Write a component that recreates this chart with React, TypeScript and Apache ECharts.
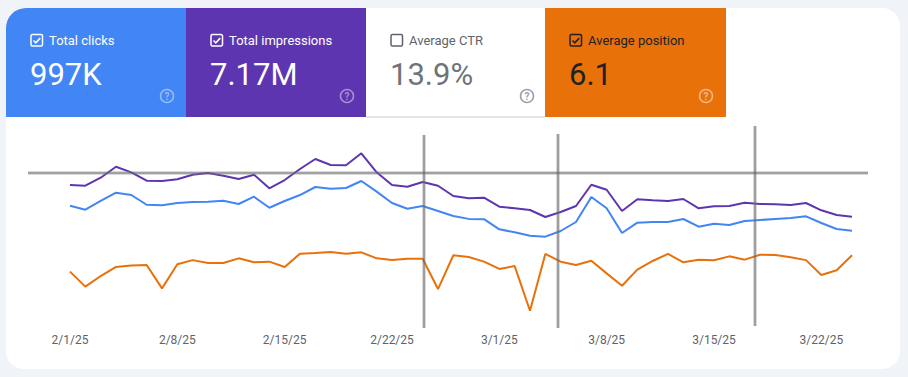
import React, { useEffect, useRef } from "react";
import * as echarts from "echarts";

const dates = [
  "2/1/25","2/2/25","2/3/25","2/4/25","2/5/25","2/6/25","2/7/25","2/8/25","2/9/25","2/10/25",
  "2/11/25","2/12/25","2/13/25","2/14/25","2/15/25","2/16/25","2/17/25","2/18/25","2/19/25","2/20/25",
  "2/21/25","2/22/25","2/23/25","2/24/25","2/25/25","2/26/25","2/27/25","2/28/25","3/1/25","3/2/25",
  "3/3/25","3/4/25","3/5/25","3/6/25","3/7/25","3/8/25","3/9/25","3/10/25","3/11/25","3/12/25",
  "3/13/25","3/14/25","3/15/25","3/16/25","3/17/25","3/18/25","3/19/25","3/20/25","3/21/25","3/22/25",
  "3/23/25","3/24/25",
];

const clicks = [
  20550, 19870, 21360, 22770, 22380, 20720, 20620, 21020, 21190, 21240,
  21410, 20840, 22090, 20210, 21360, 22380, 23750, 23460, 23580, 24770,
  22950, 21020, 20040, 20500, 19650, 18790, 18300, 18250, 16520, 16010,
  15430, 15260, 16230, 17770, 22040, 20110, 15890, 17650, 17770, 17770,
  18280, 16970, 17480, 17260, 17940, 18110, 18280, 18450, 18740, 17600,
  16570, 16280,
];

const impressions = [
  145230, 144510, 152750, 164080, 158310, 149660, 149350, 151100, 155840, 157590,
  154810, 151410, 155840, 141830, 150380, 161710, 172010, 165830, 165520, 177880,
  158310, 145230, 143480, 148320, 144510, 133900, 131530, 132150, 122880, 121230,
  119480, 112270, 117420, 123600, 145540, 140390, 118450, 130500, 129470, 128750,
  130810, 121230, 123290, 123600, 127000, 125660, 125350, 124630, 126690, 119170,
  114330, 112580,
];

const position = [
  6.54, 7.22, 6.74, 6.33, 6.26, 6.24, 7.30, 6.21, 6.02, 6.15,
  6.15, 5.94, 6.12, 6.09, 6.33, 5.73, 5.70, 5.65, 5.73, 5.67,
  5.94, 6.02, 5.96, 5.96, 7.33, 5.80, 5.88, 6.09, 6.42, 6.29,
  8.31, 5.74, 6.09, 6.24, 6.05, 6.62, 7.18, 6.45, 6.06, 5.74,
  6.12, 6.00, 6.03, 5.85, 6.00, 5.78, 5.79, 5.89, 6.02, 6.69,
  6.48, 5.80,
];

const metricNames = ["Total clicks", "Total impressions", "Average CTR", "Average position"];
const metricValues = ["997K", "7.17M", "13.9%", "6.1"];
const metricChecked = [true, true, false, true];

const BLUE = "#4285f4";
const PURPLE = "#5e35b1";
const ORANGE = "#e8710a";
const PAGE_BG = "#f0f3f7";
const FONT = "Roboto, 'Noto Sans', sans-serif";

function buildHeader(): any[] {
  const cards = [
    { x: 6, w: 180, bg: BLUE, text: "#ffffff", value: "#ffffff", box: "#ffffff", help: "rgba(255,255,255,0.45)", r: [20, 0, 0, 0] },
    { x: 186, w: 180, bg: PURPLE, text: "#ffffff", value: "#ffffff", box: "#ffffff", help: "rgba(255,255,255,0.45)", r: 0 },
    { x: 366, w: 179, bg: "#ffffff", text: "#5f6368", value: "#6f7378", box: "#5f6368", help: "#9aa0a6", r: 0 },
    { x: 545, w: 181, bg: ORANGE, text: "#202124", value: "#202124", box: "#202124", help: "rgba(255,255,255,0.5)", r: 0 },
  ];
  const els: any[] = [];
  cards.forEach((c, i) => {
    els.push({
      type: "rect",
      shape: { x: c.x, y: 8, width: c.w, height: 109, r: c.r },
      style: { fill: c.bg },
      z: 10,
    });
    if (i === 2) {
      els.push({
        type: "line",
        shape: { x1: c.x, y1: 117, x2: c.x + c.w, y2: 117 },
        style: { stroke: "#dadce0", lineWidth: 1.5 },
        z: 11,
      });
    }
    const bx = c.x + 25;
    const by = 34.5;
    els.push({
      type: "rect",
      shape: { x: bx, y: by, width: 11.5, height: 11.5, r: 1.5 },
      style: { fill: "none", stroke: c.box, lineWidth: 1.5 },
      z: 12,
    });
    if (metricChecked[i]) {
      els.push({
        type: "polyline",
        shape: { points: [[bx + 2.5, by + 6], [bx + 4.8, by + 8.3], [bx + 9.2, by + 3.6]] },
        style: { fill: "none", stroke: c.box, lineWidth: 1.6 },
        z: 12,
      });
    }
    els.push({
      type: "text",
      x: c.x + 43,
      y: 40,
      style: {
        text: metricNames[i],
        fill: c.text,
        fontSize: 13,
        fontWeight: 400,
        fontFamily: FONT,
        verticalAlign: "middle",
        align: "left",
      },
      z: 12,
    });
    els.push({
      type: "text",
      x: c.x + 24,
      y: 74,
      style: {
        text: metricValues[i],
        fill: c.value,
        fontSize: 31,
        fontWeight: 400,
        fontFamily: FONT,
        verticalAlign: "middle",
        align: "left",
      },
      z: 12,
    });
    els.push({
      type: "circle",
      shape: { cx: c.x + 161, cy: 96, r: 6.5 },
      style: { fill: "none", stroke: c.help, lineWidth: 1.5 },
      z: 12,
    });
    els.push({
      type: "text",
      x: c.x + 161,
      y: 96.5,
      style: {
        text: "?",
        fill: c.help,
        fontSize: 10,
        fontWeight: 700,
        fontFamily: FONT,
        verticalAlign: "middle",
        align: "center",
      },
      z: 12,
    });
  });
  return els;
}

function pencilLine(x1: number, y1: number, x2: number, y2: number): any[] {
  return [
    {
      type: "line",
      shape: { x1, y1, x2, y2 },
      style: { stroke: "rgba(130,130,130,0.4)", lineWidth: 3.5 },
      z: 20,
    },
    {
      type: "line",
      shape: { x1, y1, x2, y2 },
      style: { stroke: "rgba(90,90,90,0.5)", lineWidth: 1.6 },
      z: 21,
    },
  ];
}

export default function App() {
  const ref = useRef<HTMLDivElement>(null);

  useEffect(() => {
    if (!ref.current) return;
    const chart = echarts.init(ref.current, undefined, { renderer: "svg" });
    const lineStyle = (color: string) => ({ color, width: 2 });
    chart.setOption({
      animation: false,
      backgroundColor: PAGE_BG,
      graphic: [
        {
          type: "rect",
          shape: { x: 6, y: 8, width: 894, height: 361, r: 18 },
          style: { fill: "#ffffff" },
          z: 0,
          silent: true,
        },
        ...buildHeader(),
        ...pencilLine(28, 173, 868, 173),
        ...pencilLine(424, 135, 424, 328),
        ...pencilLine(558, 134, 558, 328),
        ...pencilLine(755, 126, 755, 326),
      ],
      grid: { left: 70, right: 56, top: 127, bottom: 51, containLabel: false },
      xAxis: {
        type: "category",
        data: dates,
        boundaryGap: false,
        axisLine: { show: false },
        axisTick: { show: false },
        splitLine: { show: false },
        axisLabel: {
          interval: 6,
          margin: 8,
          color: "#5f6368",
          fontSize: 12,
          fontFamily: FONT,
        },
      },
      yAxis: [
        { type: "value", min: 0, max: 34000, show: false, splitLine: { show: false } },
        { type: "value", min: 0, max: 205000, show: false, splitLine: { show: false } },
        { type: "value", min: 0, max: 9, inverse: true, show: false, splitLine: { show: false } },
      ],
      series: [
        {
          name: "Total clicks",
          type: "line",
          yAxisIndex: 0,
          data: clicks,
          symbol: "none",
          lineStyle: lineStyle(BLUE),
          itemStyle: { color: BLUE },
          z: 3,
        },
        {
          name: "Total impressions",
          type: "line",
          yAxisIndex: 1,
          data: impressions,
          symbol: "none",
          lineStyle: lineStyle(PURPLE),
          itemStyle: { color: PURPLE },
          z: 3,
        },
        {
          name: "Average position",
          type: "line",
          yAxisIndex: 2,
          data: position,
          symbol: "none",
          lineStyle: lineStyle(ORANGE),
          itemStyle: { color: ORANGE },
          z: 3,
        },
      ],
    });
    return () => chart.dispose();
  }, []);

  return (
    <div
      ref={ref}
      style={{ position: "absolute", left: 0, top: 0, width: 908, height: 377 }}
    />
  );
}
